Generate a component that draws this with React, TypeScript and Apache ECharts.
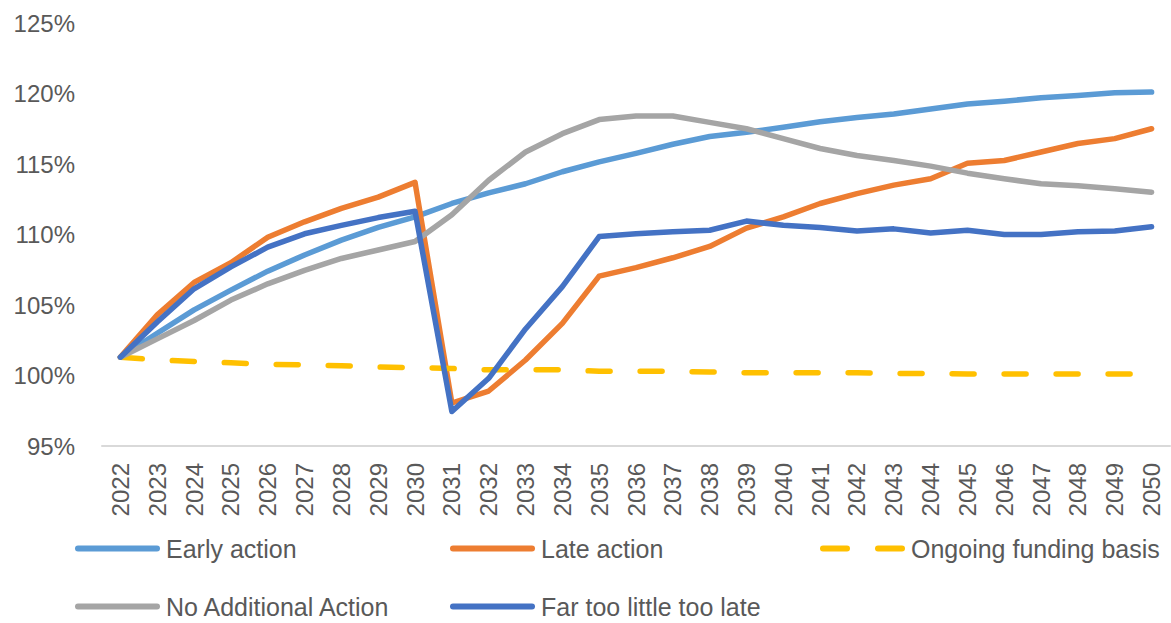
import React, { useEffect, useRef } from "react";
import * as echarts from "echarts";

const years = [
  "2022", "2023", "2024", "2025", "2026", "2027", "2028", "2029", "2030", "2031",
  "2032", "2033", "2034", "2035", "2036", "2037", "2038", "2039", "2040", "2041",
  "2042", "2043", "2044", "2045", "2046", "2047", "2048", "2049", "2050",
];

const earlyAction = [
  101.3, 103.0, 104.65, 106.05, 107.4, 108.55, 109.6, 110.5, 111.25, 112.2,
  112.95, 113.6, 114.45, 115.15, 115.75, 116.4, 116.95, 117.25, 117.6, 118.0,
  118.3, 118.55, 118.9, 119.25, 119.45, 119.7, 119.85, 120.05, 120.1,
];

const lateAction = [
  101.3, 104.3, 106.6, 108.0, 109.8, 110.9, 111.85, 112.65, 113.7, 98.05,
  98.9, 101.1, 103.7, 107.05, 107.65, 108.35, 109.15, 110.45, 111.25, 112.2,
  112.9, 113.5, 113.95, 115.05, 115.25, 115.85, 116.45, 116.8, 117.5,
];

const ongoingFunding = [
  101.3, 101.1, 101.0, 100.9, 100.8, 100.75, 100.7, 100.6, 100.55, 100.5,
  100.4, 100.4, 100.4, 100.3, 100.3, 100.3, 100.25, 100.2, 100.2, 100.2,
  100.2, 100.15, 100.15, 100.1, 100.1, 100.1, 100.1, 100.1, 100.1,
];

const noAdditionalAction = [
  101.3, 102.6, 103.9, 105.35, 106.5, 107.45, 108.3, 108.9, 109.5, 111.4,
  113.85, 115.85, 117.15, 118.15, 118.4, 118.4, 117.95, 117.5, 116.8, 116.1,
  115.6, 115.25, 114.85, 114.35, 113.95, 113.6, 113.45, 113.25, 113.0,
];

const farTooLittle = [
  101.3, 103.8, 106.15, 107.7, 109.1, 110.05, 110.65, 111.2, 111.65, 97.45,
  99.8, 103.3, 106.3, 109.85, 110.05, 110.2, 110.3, 110.95, 110.65, 110.5,
  110.25, 110.4, 110.1, 110.3, 110.0, 110.0, 110.2, 110.25, 110.55,
];

const seriesNames = [
  "Early action",
  "Late action",
  "Ongoing funding basis",
  "No Additional Action",
  "Far too little too late",
];
const seriesColors = ["#5B9BD5", "#ED7D31", "#FFC000", "#A5A5A5", "#4472C4"];
const seriesData = [earlyAction, lateAction, ongoingFunding, noAdditionalAction, farTooLittle];

const FONT = "'Liberation Sans', Arial, sans-serif";
const TEXT_COLOR = "#595959";

const SOLID_ICON = "path://M3,0h79a3,3 0 0 1 0,6h-79a3,3 0 0 1 0,-6z";
const DASH_ICON =
  "path://M3,0h24a3,3 0 0 1 0,6h-24a3,3 0 0 1 0,-6zM58,0h24a3,3 0 0 1 0,6h-24a3,3 0 0 1 0,-6z";

export default function App() {
  const ref = useRef<HTMLDivElement>(null);

  useEffect(() => {
    if (!ref.current) return;
    const chart = echarts.init(ref.current, undefined, { renderer: "svg" });

    const legendPos = [
      { left: 75, top: 536 },
      { left: 450, top: 536 },
      { left: 820, top: 536 },
      { left: 75, top: 594 },
      { left: 450, top: 594 },
    ];

    const legends = seriesNames.map((name, i) => ({
      data: [{ name, icon: i === 2 ? DASH_ICON : SOLID_ICON }],
      left: legendPos[i].left,
      top: legendPos[i].top,
      padding: 0,
      itemWidth: 85,
      itemHeight: 6,
      itemGap: 0,
      selectedMode: false,
      textStyle: { fontSize: 25, color: TEXT_COLOR, fontFamily: FONT, padding: [0, 0, 0, 1] },
    }));

    chart.setOption({
      animation: false,
      backgroundColor: "#ffffff",
      grid: { left: 102, right: 1, top: 23, bottom: 177, containLabel: false },
      legend: legends,
      xAxis: {
        type: "category",
        data: years,
        boundaryGap: true,
        axisLine: { show: true, lineStyle: { color: "#D9D9D9", width: 2 } },
        axisTick: { show: false },
        splitLine: { show: false },
        axisLabel: {
          rotate: 90,
          interval: 0,
          margin: 17,
          fontSize: 24,
          color: TEXT_COLOR,
          fontFamily: FONT,
        },
      },
      yAxis: {
        type: "value",
        min: 95,
        max: 125,
        interval: 5,
        axisLine: { show: false },
        axisTick: { show: false },
        splitLine: { show: false },
        axisLabel: {
          formatter: "{value}%",
          margin: 27,
          fontSize: 24,
          color: TEXT_COLOR,
          fontFamily: FONT,
        },
      },
      series: seriesNames.map((name, i) => ({
        name,
        type: "line",
        data: seriesData[i],
        symbol: "none",
        showSymbol: false,
        smooth: false,
        color: seriesColors[i],
        itemStyle: { color: seriesColors[i] },
        lineStyle:
          i === 2
            ? { width: 5.5, color: seriesColors[i], type: [22, 30], cap: "round" }
            : { width: 5.5, color: seriesColors[i], cap: "round", join: "round" },
        z: 2 + i,
      })),
    });

    return () => chart.dispose();
  }, []);

  return (
    <div
      ref={ref}
      style={{ position: "absolute", left: 0, top: 0, width: 1171, height: 623 }}
    />
  );
}
